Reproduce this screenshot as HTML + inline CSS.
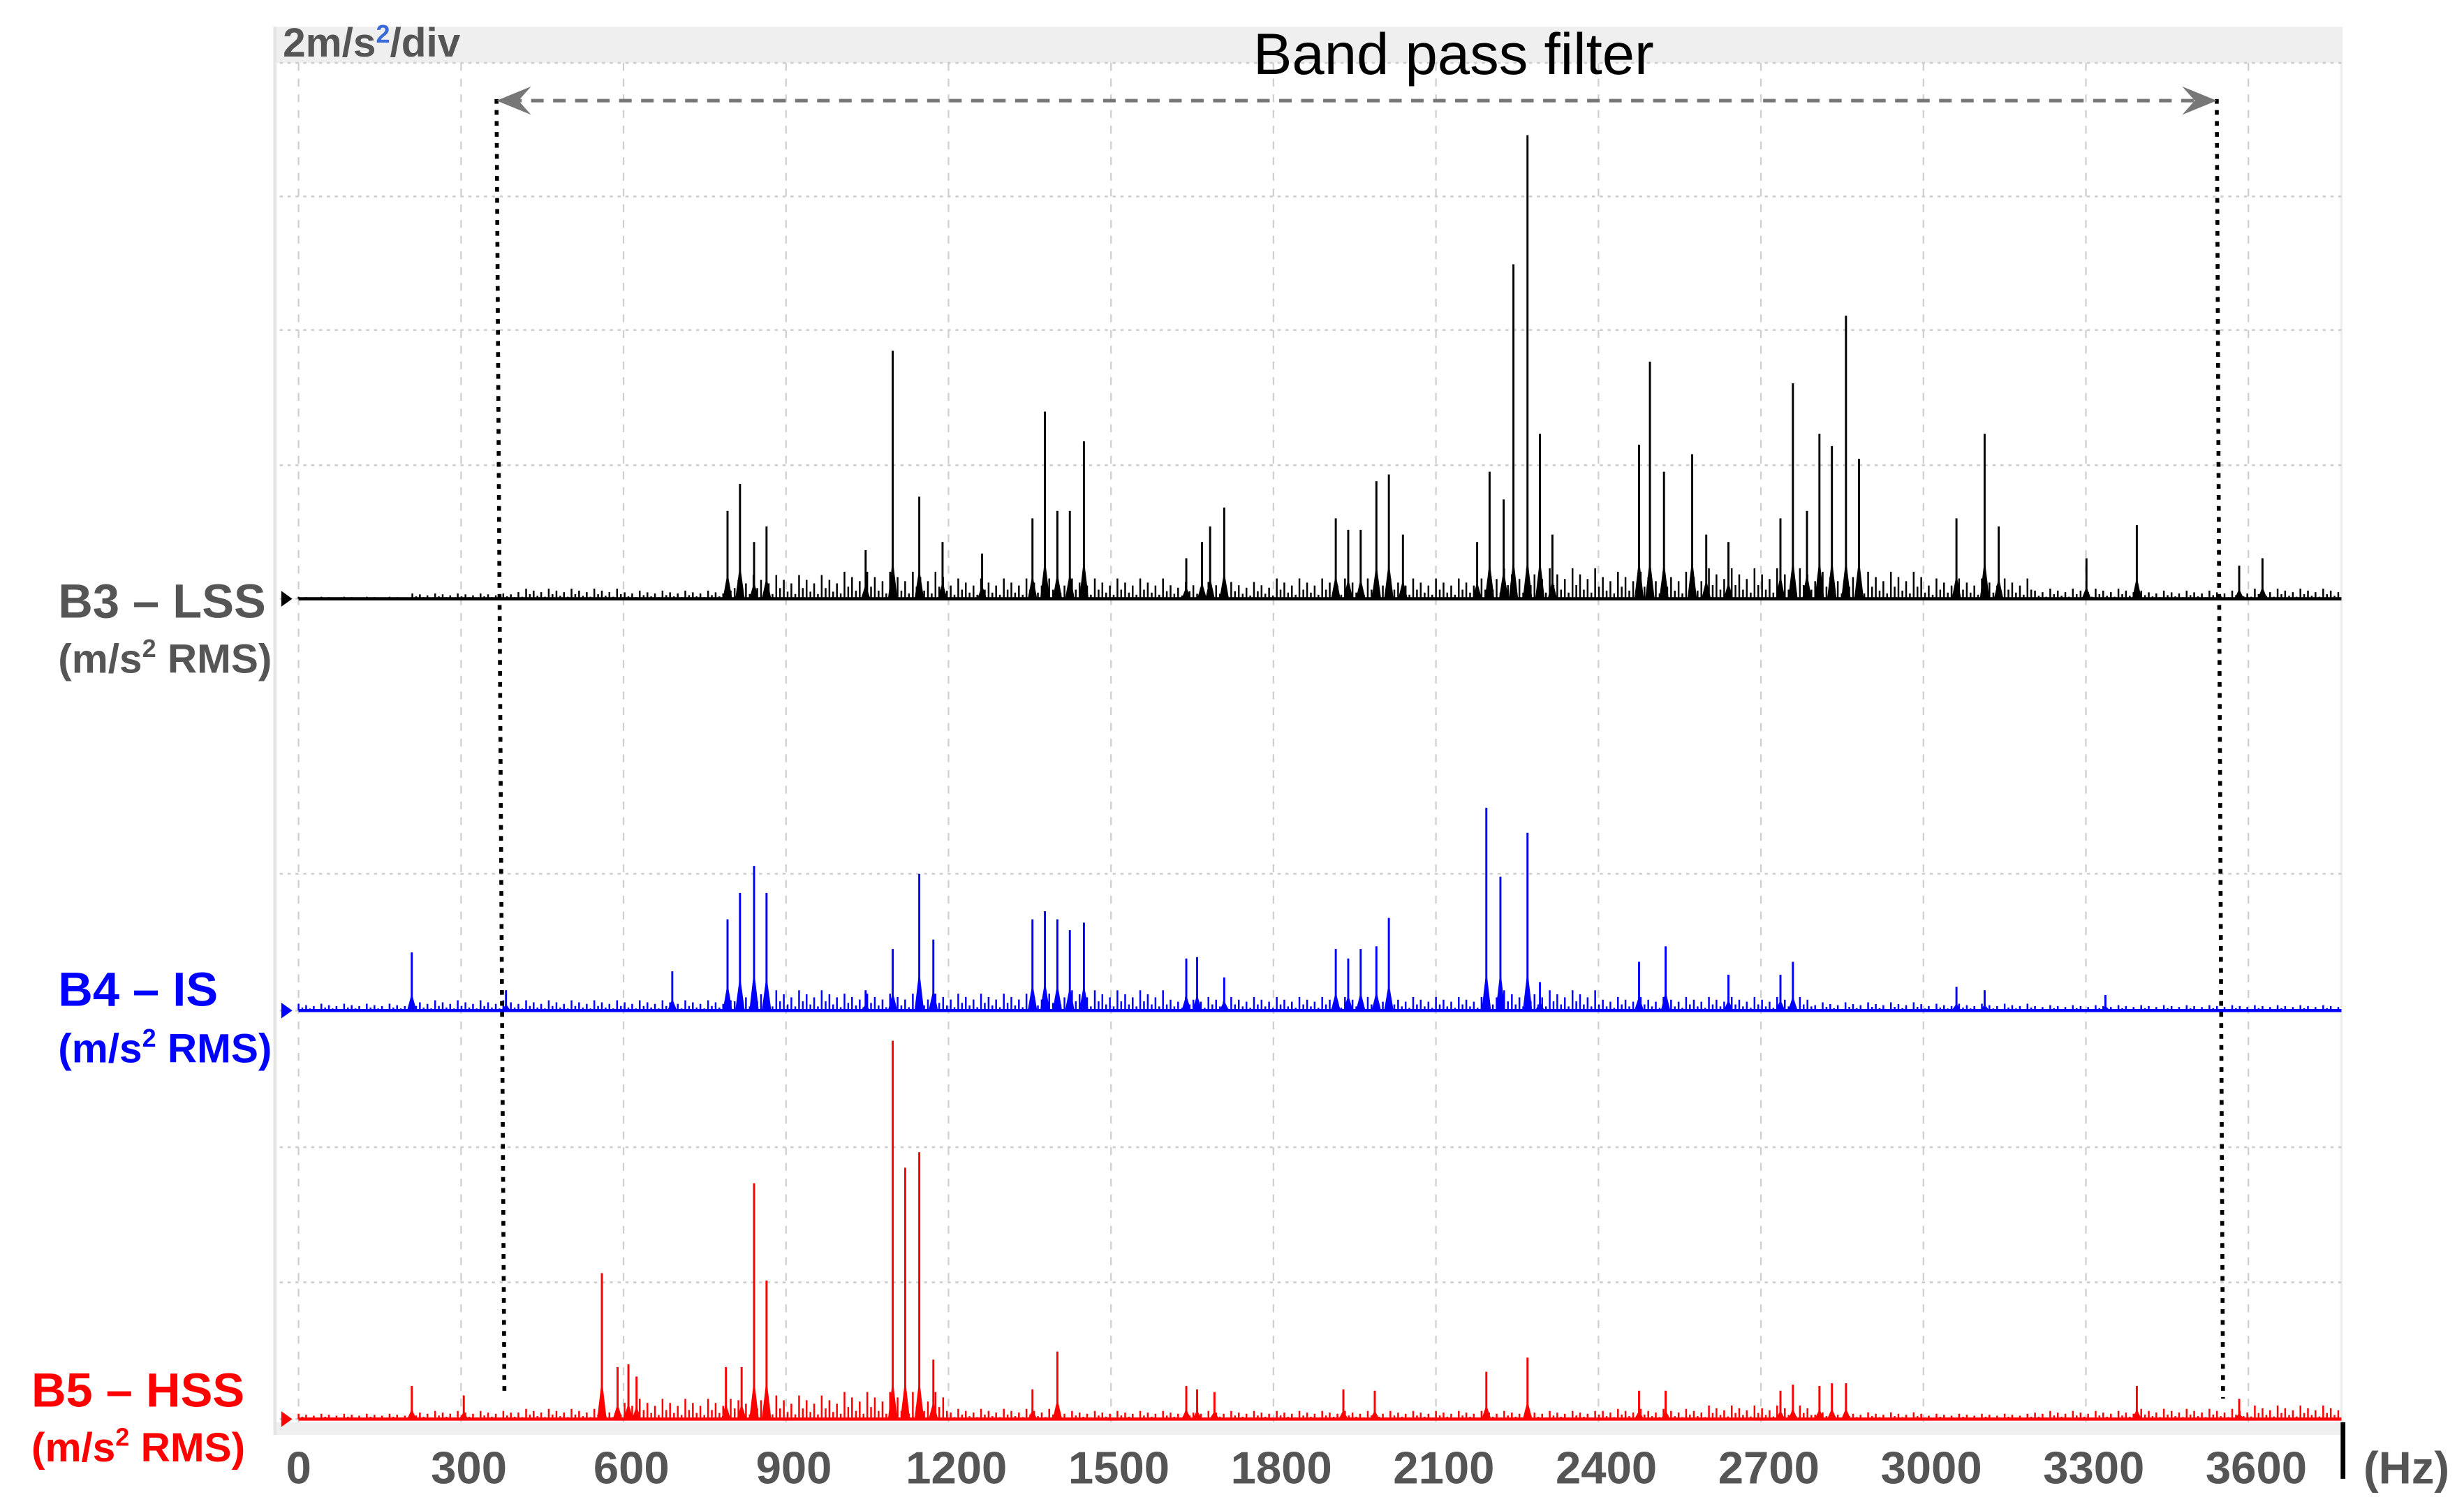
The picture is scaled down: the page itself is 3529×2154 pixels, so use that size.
<!DOCTYPE html>
<html><head><meta charset="utf-8"><style>
html,body{margin:0;padding:0;background:#fff;}
svg{display:block;font-family:"Liberation Sans",Arial,sans-serif;}
</style></head><body>
<svg id="chart" width="3529" height="2154" viewBox="0 0 1568 957" xmlns="http://www.w3.org/2000/svg">
<rect x="175" y="17" width="1315" height="23" fill="#efefef"/>
<rect x="175" y="905" width="1315" height="8" fill="#efefef"/>
<line x1="175" y1="17" x2="175" y2="913" stroke="#e4e4e4" stroke-width="2"/>
<line x1="1490" y1="17" x2="1490" y2="905" stroke="#eeeeee" stroke-width="1.5"/>
<g id="grid"></g>
<g id="traces"></g>
<text x="180" y="36" font-size="26" font-weight="bold" fill="#555">2m/s<tspan font-size="16" dy="-9" fill="#3a6ad8">2</tspan><tspan dy="9">/div</tspan></text>
<text x="925" y="47" font-size="37" text-anchor="middle" fill="#000">Band pass filter</text>
<g id="filter"></g>
<g font-weight="bold" fill="#555">
<text x="37" y="393" font-size="30.5">B3 – LSS</text>
<text x="37" y="428" font-size="26">(m/s<tspan font-size="16" dy="-10">2</tspan><tspan dy="10"> RMS)</tspan></text>
</g>
<g font-weight="bold" fill="#0000ff">
<text x="37" y="640" font-size="30.5">B4 – IS</text>
<text x="37" y="676" font-size="26">(m/s<tspan font-size="16" dy="-10">2</tspan><tspan dy="10"> RMS)</tspan></text>
</g>
<g font-weight="bold" fill="#ff0000">
<text x="20" y="895" font-size="30.5">B5 – HSS</text>
<text x="20" y="930" font-size="26">(m/s<tspan font-size="16" dy="-10">2</tspan><tspan dy="10"> RMS)</tspan></text>
</g>
<g id="xticks"></g>
<line x1="1491" y1="905" x2="1491" y2="941" stroke="#000" stroke-width="3"/>
<text x="1504" y="944" font-size="29" font-weight="bold" fill="#555">(Hz)</text>
</svg>
<script>
const xTicks=[0,300,600,900,1200,1500,1800,2100,2400,2700,3000,3300,3600];
const gridYs=[40,125,210,296,381,556,643,730,816,903];
const b3Freq=[792,815,841,864,1047,1097,1146,1189,1262,1355,1378,1401,1424,1450,1639,1668,1683,1709,1915,1938,1961,1990,2013,2039,2176,2199,2225,2243,2269,2292,2315,2475,2495,2521,2573,2599,2640,2736,2759,2785,2808,2831,2857,2881,3061,3113,3139,3301,3394,3583,3626];
const b3Amp=[1.30,1.70,0.84,1.07,0.72,3.67,1.51,0.84,0.67,1.19,2.77,1.30,1.30,2.33,0.60,0.84,1.07,1.35,1.19,1.02,1.02,1.74,1.84,0.95,0.84,1.88,1.47,4.95,6.86,2.44,0.95,2.28,3.51,1.88,2.14,0.95,0.84,1.19,3.19,1.30,2.44,2.26,4.19,2.07,1.19,2.44,1.07,0.60,1.09,0.49,0.60];
const b4Freq=[209,383,690,792,815,841,864,1047,1097,1146,1172,1355,1378,1401,1424,1450,1639,1659,1709,1915,1938,1961,1990,2013,2193,2219,2269,2292,2475,2524,2640,2736,2759,3061,3113,3336];
const b4Amp=[0.86,0.30,0.58,1.35,1.74,2.14,1.74,0.30,0.91,2.02,1.05,1.35,1.47,1.35,1.19,1.30,0.77,0.79,0.49,0.91,0.77,0.91,0.95,1.37,3.0,1.98,2.63,0.42,0.72,0.95,0.53,0.53,0.72,0.35,0.30,0.23];
const b5Freq=[209,305,560,589,609,624,789,818,841,864,1097,1120,1146,1172,1355,1401,1639,1659,1691,1929,1987,2193,2269,2475,2524,2736,2759,2808,2831,2857,3394,3583];
const b5Amp=[0.49,0.35,2.16,0.77,0.81,0.63,0.77,0.77,3.49,2.05,5.60,3.72,3.95,0.88,0.44,1.00,0.49,0.44,0.40,0.44,0.42,0.70,0.91,0.42,0.42,0.42,0.51,0.49,0.53,0.53,0.49,0.30];
const b3Floor=[0.03,0.08,0.15,0.12,0.35,0.4,0.3,0.3,0.25,0.3,0.3,0.45,0.4,0.45,0.4,0.3,0.15,0.12,0.15];
const b4Floor=[0.1,0.15,0.15,0.15,0.3,0.25,0.25,0.3,0.2,0.2,0.2,0.3,0.2,0.2,0.12,0.1,0.08,0.08,0.08];
const b5Floor=[0.08,0.12,0.15,0.3,0.35,0.4,0.15,0.12,0.12,0.12,0.12,0.12,0.15,0.2,0.1,0.08,0.12,0.15,0.2];
const filterLow=380, filterHigh=3530;

const NS="http://www.w3.org/2000/svg";
const X0=190, PX_PER_HZ=103.4/300, PX_PER_UNIT=43, FMAX=3771;
function xs(f){return X0+f*PX_PER_HZ;}
function ys(base,a){return base-a*PX_PER_UNIT;}
function mk(tag,parent,attrs){const e=document.createElementNS(NS,tag);for(const k in attrs)e.setAttribute(k,attrs[k]);parent.appendChild(e);return e;}

const grid=document.getElementById('grid');
xTicks.forEach(t=>{
  const l=mk('line',grid,{x1:xs(t),x2:xs(t),y1:40,y2:905,stroke:'#cfcfcf','stroke-width':1,'stroke-dasharray':'5 5'});
  
  
});
gridYs.forEach(y=>{
  const l=mk('line',grid,{x1:178,x2:1490,y1:y,y2:y,stroke:'#cfcfcf','stroke-width':1.2,'stroke-dasharray':'2 3'});
  
  
});

const xt=document.getElementById('xticks');
xTicks.forEach(t=>{
  const tx=mk('text',xt,{x:t===0?xs(t)-8:xs(t)+5,y:944,'font-size':29,'font-weight':'bold',fill:'#555','text-anchor':t===0?'start':'middle'});
  tx.textContent=t;
  
  
});

const traces=document.getElementById('traces');
const pattern=[1,0.45,0.8,0.3,0.65,0.2];
function drawTrace(name,base,color,freqs,amps,floor){
  const g=mk('g',traces,{});
  
  
  let d='';
  let i=0;
  for(let f=0;f<=FMAX;f+=7){
    const bin=Math.min(floor.length-1,Math.floor(f/200));
    const a=floor[bin]*pattern[i%pattern.length];
    d+=`M${xs(f).toFixed(1)} ${base}V${ys(base,a).toFixed(1)}`;
    i++;
  }
  const fl=mk('path',g,{d:d,stroke:color,'stroke-width':1.1,fill:'none'});
  
  
  const bl=mk('line',g,{x1:X0,x2:1490,y1:base,y2:base,stroke:color,'stroke-width':2});
  
  
  freqs.forEach((f,k)=>{
    const p=mk('line',g,{x1:xs(f),x2:xs(f),y1:base,y2:ys(base,amps[k]),stroke:color,'stroke-width':1.3});
    
    
    const c=mk('path',g,{d:`M${xs(f)-3} ${base}L${xs(f)} ${ys(base,Math.min(amps[k]*0.3,0.6))}L${xs(f)+3} ${base}Z`,fill:color});
    
    
  });
  const m=mk('path',g,{d:`M179 ${base-5}L186 ${base}L179 ${base+5}Z`,fill:color});
  
  
}
drawTrace('b3-lss-trace',381,'#000000',b3Freq,b3Amp,b3Floor);
drawTrace('b4-is-trace',643,'#0000ff',b4Freq,b4Amp,b4Floor);
drawTrace('b5-hss-trace',903,'#ff0000',b5Freq,b5Amp,b5Floor);

const fg=document.getElementById('filter');
const xl=xs(filterLow)-5, xh=xs(filterHigh)+4;
const v1=mk('line',fg,{x1:xl,x2:xl+5,y1:63,y2:885,stroke:'#000','stroke-width':2.5,'stroke-dasharray':'3 4'});


const v2=mk('line',fg,{x1:xh,x2:xh+4,y1:63,y2:890,stroke:'#000','stroke-width':2.5,'stroke-dasharray':'3 4'});


const ar=mk('line',fg,{x1:xl+8,x2:xh-8,y1:64,y2:64,stroke:'#777','stroke-width':2.2,'stroke-dasharray':'8 6'});


const ah1=mk('path',fg,{d:`M${xl} 64L${xl+22} 55L${xl+14} 64L${xl+22} 73Z`,fill:'#777'});


const ah2=mk('path',fg,{d:`M${xh} 64L${xh-22} 55L${xh-14} 64L${xh-22} 73Z`,fill:'#777'});


</script>
</body></html>
